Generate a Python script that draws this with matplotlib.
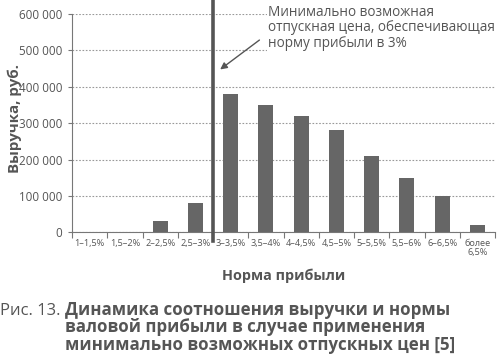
import matplotlib
matplotlib.use("Agg")
import matplotlib.pyplot as plt
import numpy as np

# categories and revenue
categories = ["1–1,5%", "1,5–2%", "2–2,5%", "2,5–3%", "3–3,5%", "3,5–4%",
              "4–4,5%", "4,5–5%", "5–5,5%", "5,5–6%", "6–6,5%", "более\n6,5%"]
revenue = [0, 0, 30000, 80000, 380000, 350000, 320000, 280000, 210000, 150000, 100000, 20000]
yticks = [0, 100000, 200000, 300000, 400000, 500000, 600000]
threshold_x = 3.5  # boundary 2,5–3% / 3–3,5%

plt.rcParams['font.family'] = ['Open Sans', 'DejaVu Sans']
txt = '#555555'

fig = plt.figure(figsize=(5, 3.59), dpi=100)
ax = fig.add_axes([0.144, 0.353, 0.846, 0.608])

x = np.arange(len(categories))
ax.bar(x, revenue, width=0.43, color='#666666', zorder=3)

ax.set_xlim(-0.5, len(categories) - 0.5)
ax.set_ylim(0, 600000)
ax.set_yticks(yticks)
ax.set_yticklabels([f"{v:,}".replace(",", " ") for v in yticks], fontsize=8.4, color=txt)
ax.yaxis.grid(True, linestyle=(0, (1.5, 1.5)), color='#999999', linewidth=0.8, zorder=0)

# boundaries get tick marks, centers get labels
ax.set_xticks(np.arange(len(categories) + 1) - 0.5)
ax.set_xticklabels([])
ax.set_xticks(x, minor=True)
ax.set_xticklabels(categories, minor=True, fontsize=6.6, color=txt, linespacing=1.0)
ax.tick_params(axis='x', which='major', length=4, color='#777777', direction='out')
ax.tick_params(axis='x', which='minor', length=0, pad=5)
ax.tick_params(axis='y', length=3, color='#777777', pad=4)

for s in ['top', 'right']:
    ax.spines[s].set_visible(False)
for s in ['left', 'bottom']:
    ax.spines[s].set_color('#777777')
    ax.spines[s].set_linewidth(0.8)

ax.set_xlabel("Норма прибыли", fontsize=10.4, fontweight='bold', color=txt, labelpad=8)
ax.set_ylabel("Выручка, руб.", fontsize=10.8, fontweight='bold', color=txt, labelpad=8)
ax.yaxis.set_label_coords(-0.118, 0.52)

ax.axvline(threshold_x, ymin=-0.04, ymax=1.07, color='#555555', linewidth=2.6,
           clip_on=False, zorder=5)

ax.text(5.06, 626000, "Минимально возможная\nотпускная цена, обеспечивающая\nнорму прибыли в 3%",
        fontsize=9.8, color=txt, va='top', ha='left', linespacing=1.08, zorder=6,
        bbox=dict(facecolor='white', edgecolor='none', pad=1), clip_on=False)
ax.annotate("", xy=(3.64, 443000), xytext=(4.88, 533000),
            arrowprops=dict(arrowstyle='-|>', color='#555555', lw=1.0, mutation_scale=10),
            zorder=6)

fig.text(0.0, 0.133, "Рис. 13.", fontsize=12, color=txt, va='center')
fig.text(0.13, 0.088, "Динамика соотношения выручки и нормы\nваловой прибыли в случае применения\n"
         "минимально возможных отпускных цен [5]",
         fontsize=12.2, fontweight='bold', color=txt, va='center', linespacing=0.97)

fig.savefig("out.png", dpi=100)
